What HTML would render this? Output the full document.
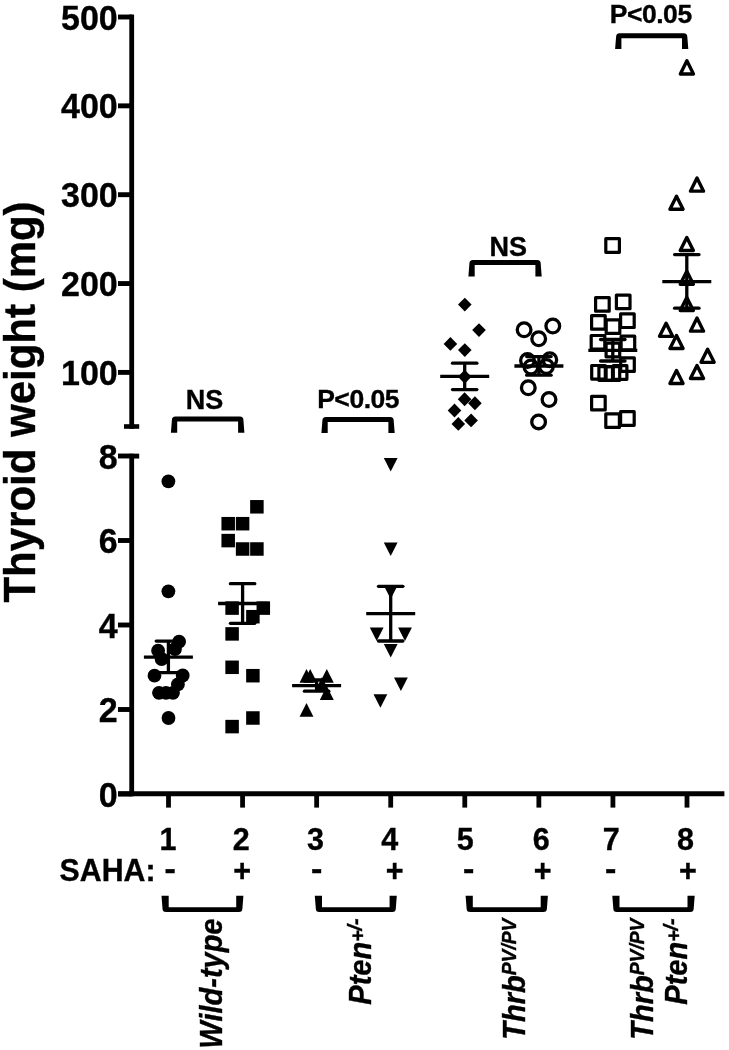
<!DOCTYPE html>
<html><head><meta charset="utf-8"><title>Thyroid weight</title>
<style>
html,body{margin:0;padding:0;background:#fff;}
svg{display:block;}
.b{font-family:"Liberation Sans",Arial,Helvetica,sans-serif;font-weight:bold;fill:#000;stroke:#000;stroke-width:0.35px;}
.bi{font-family:"Liberation Sans",Arial,Helvetica,sans-serif;font-weight:bold;font-style:italic;fill:#000;stroke:#000;stroke-width:0.35px;}
</style></head>
<body>
<svg width="729" height="1050" viewBox="0 0 729 1050">
<rect width="729" height="1050" fill="#fff"/>
<line x1="131.7" y1="14.4" x2="131.7" y2="428.7" stroke="#000" stroke-width="4.8"/>
<line x1="124" y1="426.5" x2="139.2" y2="426.5" stroke="#000" stroke-width="4.6"/>
<line x1="131.7" y1="453.7" x2="131.7" y2="796.3" stroke="#000" stroke-width="4.8"/>
<line x1="131.7" y1="456.1" x2="139.2" y2="456.1" stroke="#000" stroke-width="4.9"/>
<line x1="118" y1="372.40" x2="131.7" y2="372.40" stroke="#000" stroke-width="4.9"/>
<line x1="118" y1="283.55" x2="131.7" y2="283.55" stroke="#000" stroke-width="4.9"/>
<line x1="118" y1="194.70" x2="131.7" y2="194.70" stroke="#000" stroke-width="4.9"/>
<line x1="118" y1="105.85" x2="131.7" y2="105.85" stroke="#000" stroke-width="4.9"/>
<line x1="118" y1="17.00" x2="131.7" y2="17.00" stroke="#000" stroke-width="4.9"/>
<line x1="118" y1="794.00" x2="131.7" y2="794.00" stroke="#000" stroke-width="4.9"/>
<line x1="118" y1="709.50" x2="131.7" y2="709.50" stroke="#000" stroke-width="4.9"/>
<line x1="118" y1="625.00" x2="131.7" y2="625.00" stroke="#000" stroke-width="4.9"/>
<line x1="118" y1="540.50" x2="131.7" y2="540.50" stroke="#000" stroke-width="4.9"/>
<line x1="118" y1="456.00" x2="131.7" y2="456.00" stroke="#000" stroke-width="4.9"/>
<line x1="118.2" y1="793.8" x2="724.4" y2="793.8" stroke="#000" stroke-width="5"/>
<line x1="168.50" y1="793.8" x2="168.50" y2="807.6" stroke="#000" stroke-width="4.8"/>
<line x1="242.57" y1="793.8" x2="242.57" y2="807.6" stroke="#000" stroke-width="4.8"/>
<line x1="316.64" y1="793.8" x2="316.64" y2="807.6" stroke="#000" stroke-width="4.8"/>
<line x1="390.71" y1="793.8" x2="390.71" y2="807.6" stroke="#000" stroke-width="4.8"/>
<line x1="464.78" y1="793.8" x2="464.78" y2="807.6" stroke="#000" stroke-width="4.8"/>
<line x1="538.85" y1="793.8" x2="538.85" y2="807.6" stroke="#000" stroke-width="4.8"/>
<line x1="612.92" y1="793.8" x2="612.92" y2="807.6" stroke="#000" stroke-width="4.8"/>
<line x1="686.99" y1="793.8" x2="686.99" y2="807.6" stroke="#000" stroke-width="4.8"/>
<text transform="translate(117.7,384.90) scale(1,1.045)" class="b" font-size="34" text-anchor="end">100</text>
<text transform="translate(117.7,296.05) scale(1,1.045)" class="b" font-size="34" text-anchor="end">200</text>
<text transform="translate(117.7,207.20) scale(1,1.045)" class="b" font-size="34" text-anchor="end">300</text>
<text transform="translate(117.7,118.35) scale(1,1.045)" class="b" font-size="34" text-anchor="end">400</text>
<text transform="translate(117.7,29.50) scale(1,1.045)" class="b" font-size="34" text-anchor="end">500</text>
<text transform="translate(117.7,806.50) scale(1,1.045)" class="b" font-size="34" text-anchor="end">0</text>
<text transform="translate(117.7,722.00) scale(1,1.045)" class="b" font-size="34" text-anchor="end">2</text>
<text transform="translate(117.7,637.50) scale(1,1.045)" class="b" font-size="34" text-anchor="end">4</text>
<text transform="translate(117.7,553.00) scale(1,1.045)" class="b" font-size="34" text-anchor="end">6</text>
<text transform="translate(117.7,468.50) scale(1,1.045)" class="b" font-size="34" text-anchor="end">8</text>
<text transform="translate(35,402) rotate(-90) scale(1,1.06)" class="b" font-size="42" text-anchor="middle">Thyroid weight (mg)</text>
<text x="168.05" y="849.6" class="b" font-size="30.5" text-anchor="middle">1</text>
<text transform="translate(170.10,878.7) scale(1.12,1)" class="b" font-size="30.5" text-anchor="middle">-</text>
<text x="241.20" y="849.6" class="b" font-size="30.5" text-anchor="middle">2</text>
<text x="242.05" y="881.3" class="b" font-size="30.5" text-anchor="middle">+</text>
<text x="315.60" y="849.6" class="b" font-size="30.5" text-anchor="middle">3</text>
<text transform="translate(316.60,878.7) scale(1.12,1)" class="b" font-size="30.5" text-anchor="middle">-</text>
<text x="389.65" y="849.6" class="b" font-size="30.5" text-anchor="middle">4</text>
<text x="394.70" y="881.3" class="b" font-size="30.5" text-anchor="middle">+</text>
<text x="465.30" y="849.6" class="b" font-size="30.5" text-anchor="middle">5</text>
<text transform="translate(468.80,878.7) scale(1.12,1)" class="b" font-size="30.5" text-anchor="middle">-</text>
<text x="541.30" y="849.6" class="b" font-size="30.5" text-anchor="middle">6</text>
<text x="542.60" y="881.3" class="b" font-size="30.5" text-anchor="middle">+</text>
<text x="611.20" y="849.6" class="b" font-size="30.5" text-anchor="middle">7</text>
<text transform="translate(610.80,878.7) scale(1.12,1)" class="b" font-size="30.5" text-anchor="middle">-</text>
<text x="685.60" y="849.6" class="b" font-size="30.5" text-anchor="middle">8</text>
<text x="688.00" y="881.3" class="b" font-size="30.5" text-anchor="middle">+</text>
<text transform="translate(59.6,881.2) scale(1,1.03)" class="b" font-size="30.3">SAHA:</text>
<path d="M170.9,432.8 L171.9,420.0 Q171.9,416.5 175.4,416.5 L239.9,416.5 Q243.4,416.5 243.4,420.0 L244.4,432.8 L238.1,432.8 L238.1,421.6 L177.20000000000002,421.6 L177.20000000000002,432.8 Z" fill="#000"/>
<path d="M321.4,433.0 L322.4,420.5 Q322.4,417.0 325.9,417.0 L390.2,417.0 Q393.7,417.0 393.7,420.5 L394.7,433.0 L388.4,433.0 L388.4,422.1 L327.7,422.1 L327.7,433.0 Z" fill="#000"/>
<path d="M468.4,276.6 L469.4,263.5 Q469.4,260.0 472.9,260.0 L537.2,260.0 Q540.7,260.0 540.7,263.5 L541.7,276.6 L535.4000000000001,276.6 L535.4000000000001,265.1 L474.7,265.1 L474.7,276.6 Z" fill="#000"/>
<path d="M615.1,49.0 L616.1,36.7 Q616.1,33.2 619.6,33.2 L683.8,33.2 Q687.3,33.2 687.3,36.7 L688.3,49.0 L682.0,49.0 L682.0,38.300000000000004 L621.4,38.300000000000004 L621.4,49.0 Z" fill="#000"/>
<path d="M161.5,895.7 L162.5,908.6 Q162.5,912.1 166.0,912.1 L238.9,912.1 Q242.4,912.1 242.4,908.6 L243.4,895.7 L236.20000000000002,895.7 L236.20000000000002,907.3000000000001 L168.7,907.3000000000001 L168.7,895.7 Z" fill="#000"/>
<path d="M314.8,895.7 L315.8,908.6 Q315.8,912.1 319.3,912.1 L392.3,912.1 Q395.8,912.1 395.8,908.6 L396.8,895.7 L389.6,895.7 L389.6,907.3000000000001 L322.0,907.3000000000001 L322.0,895.7 Z" fill="#000"/>
<path d="M465.6,895.7 L466.6,908.6 Q466.6,912.1 470.1,912.1 L543.4,912.1 Q546.9,912.1 546.9,908.6 L547.9,895.7 L540.6999999999999,895.7 L540.6999999999999,907.3000000000001 L472.8,907.3000000000001 L472.8,895.7 Z" fill="#000"/>
<path d="M612.3,895.7 L613.3,908.6 Q613.3,912.1 616.8,912.1 L690.2,912.1 Q693.7,912.1 693.7,908.6 L694.7,895.7 L687.5,895.7 L687.5,907.3000000000001 L619.5,907.3000000000001 L619.5,895.7 Z" fill="#000"/>
<text x="204.55" y="408.8" class="b" font-size="27" text-anchor="middle">NS</text>
<text x="358.15" y="408" class="b" font-size="26.5" letter-spacing="-0.46" text-anchor="middle">P&lt;0.05</text>
<text x="508.2" y="256" class="b" font-size="27" text-anchor="middle">NS</text>
<text x="650.7" y="23.3" class="b" font-size="26.5" letter-spacing="-0.46" text-anchor="middle">P&lt;0.05</text>
<text transform="translate(222.4,918.5) rotate(-90) scale(1,1.08)" class="bi" font-size="29" text-anchor="end">Wild-type</text>
<text transform="translate(371,918.5) rotate(-90) scale(1,1.08)" class="bi" font-size="29" text-anchor="end">Pten<tspan font-size="19.5" dy="-5.6">+</tspan><tspan font-size="19.5" dy="-2.4">/-</tspan></text>
<text transform="translate(524.7,918.5) rotate(-90) scale(1,1.08)" class="bi" font-size="29" text-anchor="end">Thrb<tspan font-size="19.3" dy="-8">PV/PV</tspan></text>
<text transform="translate(652.7,918.5) rotate(-90) scale(1,1.08)" class="bi" font-size="29" text-anchor="end">Thrb<tspan font-size="19.3" dy="-8">PV/PV</tspan></text>
<text transform="translate(686.7,918.5) rotate(-90) scale(1,1.08)" class="bi" font-size="29" text-anchor="end">Pten<tspan font-size="19.5" dy="-5.6">+</tspan><tspan font-size="19.5" dy="-2.4">/-</tspan></text>
<g fill="#000">
<circle cx="168.4" cy="481.3" r="6.9"/>
<circle cx="168.4" cy="591.3" r="6.9"/>
<circle cx="179.1" cy="641.7" r="6.9"/>
<circle cx="175" cy="649" r="6.9"/>
<circle cx="158.1" cy="650.7" r="6.9"/>
<circle cx="161.6" cy="659" r="6.9"/>
<circle cx="154.5" cy="675.7" r="6.9"/>
<circle cx="182.7" cy="675.5" r="6.9"/>
<circle cx="177.9" cy="684.4" r="6.9"/>
<circle cx="159" cy="692.8" r="6.9"/>
<circle cx="166" cy="692.8" r="6.9"/>
<circle cx="173" cy="692.8" r="6.9"/>
<circle cx="168.5" cy="718" r="6.9"/>
<rect x="250.15" y="500.05" width="13.5" height="13.5"/>
<rect x="221.45" y="516.95" width="13.5" height="13.5"/>
<rect x="235.85" y="516.95" width="13.5" height="13.5"/>
<rect x="221.45" y="533.85" width="13.5" height="13.5"/>
<rect x="235.85" y="542.25" width="13.5" height="13.5"/>
<rect x="250.15" y="542.25" width="13.5" height="13.5"/>
<rect x="225.35" y="601.35" width="13.5" height="13.5"/>
<rect x="256.55" y="601.35" width="13.5" height="13.5"/>
<rect x="246.15" y="609.95" width="13.5" height="13.5"/>
<rect x="225.35" y="627.15" width="13.5" height="13.5"/>
<rect x="225.35" y="660.55" width="13.5" height="13.5"/>
<rect x="246.15" y="668.95" width="13.5" height="13.5"/>
<rect x="246.15" y="711.25" width="13.5" height="13.5"/>
<rect x="225.35" y="719.85" width="13.5" height="13.5"/>
<path d="M306.50,668.90 L313.45,682.70 L299.55,682.70 Z"/>
<path d="M310.20,668.90 L317.15,682.70 L303.25,682.70 Z"/>
<path d="M326.80,668.90 L333.75,682.70 L319.85,682.70 Z"/>
<path d="M322.00,677.10 L328.95,690.90 L315.05,690.90 Z"/>
<path d="M326.80,686.10 L333.75,699.90 L319.85,699.90 Z"/>
<path d="M306.50,702.90 L313.45,716.70 L299.55,716.70 Z"/>
<path d="M383.80,458.05 L397.60,458.05 L390.70,471.45 Z"/>
<path d="M383.80,542.55 L397.60,542.55 L390.70,555.95 Z"/>
<path d="M383.80,585.55 L397.60,585.55 L390.70,598.95 Z"/>
<path d="M369.80,627.55 L383.60,627.55 L376.70,640.95 Z"/>
<path d="M398.10,627.55 L411.90,627.55 L405.00,640.95 Z"/>
<path d="M383.80,644.05 L397.60,644.05 L390.70,657.45 Z"/>
<path d="M394.00,677.55 L407.80,677.55 L400.90,690.95 Z"/>
<path d="M373.50,694.35 L387.30,694.35 L380.40,707.75 Z"/>
<path d="M464.80,297.65 L471.60,304.60 L464.80,311.55 L458.00,304.60 Z"/>
<path d="M479.00,323.15 L485.80,330.10 L479.00,337.05 L472.20,330.10 Z"/>
<path d="M450.40,336.95 L457.20,343.90 L450.40,350.85 L443.60,343.90 Z"/>
<path d="M464.80,343.15 L471.60,350.10 L464.80,357.05 L458.00,350.10 Z"/>
<path d="M464.70,369.85 L471.50,376.80 L464.70,383.75 L457.90,376.80 Z"/>
<path d="M464.60,392.25 L471.40,399.20 L464.60,406.15 L457.80,399.20 Z"/>
<path d="M474.90,396.35 L481.70,403.30 L474.90,410.25 L468.10,403.30 Z"/>
<path d="M454.50,403.55 L461.30,410.50 L454.50,417.45 L447.70,410.50 Z"/>
<path d="M471.10,413.45 L477.90,420.40 L471.10,427.35 L464.30,420.40 Z"/>
<path d="M458.30,416.95 L465.10,423.90 L458.30,430.85 L451.50,423.90 Z"/>
</g>
<g fill="none" stroke="#000" stroke-width="3.3" stroke-linejoin="round">
<circle cx="524.1" cy="329.7" r="6.85"/>
<circle cx="538.7" cy="338.7" r="6.85"/>
<circle cx="552.8" cy="326" r="6.85"/>
<circle cx="527.5" cy="360.4" r="6.85"/>
<circle cx="549.8" cy="359.7" r="6.85"/>
<circle cx="531" cy="367" r="6.85"/>
<circle cx="546.4" cy="366.5" r="6.85"/>
<circle cx="528.3" cy="387.8" r="6.85"/>
<circle cx="549" cy="399.5" r="6.85"/>
<circle cx="538.6" cy="421.9" r="6.85"/>
</g>
<g fill="none" stroke="#000" stroke-width="3.2" stroke-linejoin="round">
<rect x="605.80" y="238.70" width="13.6" height="13.6"/>
<rect x="595.60" y="297.60" width="13.6" height="13.6"/>
<rect x="616.40" y="295.10" width="13.6" height="13.6"/>
<rect x="591.60" y="315.60" width="13.6" height="13.6"/>
<rect x="620.60" y="313.90" width="13.6" height="13.6"/>
<rect x="606.20" y="319.80" width="13.6" height="13.6"/>
<rect x="591.20" y="335.50" width="13.6" height="13.6"/>
<rect x="621.10" y="336.20" width="13.6" height="13.6"/>
<rect x="606.10" y="343.20" width="13.6" height="13.6"/>
<rect x="620.70" y="357.80" width="13.6" height="13.6"/>
<rect x="591.70" y="365.50" width="13.6" height="13.6"/>
<rect x="598.90" y="366.70" width="13.6" height="13.6"/>
<rect x="606.10" y="366.70" width="13.6" height="13.6"/>
<rect x="613.30" y="365.70" width="13.6" height="13.6"/>
<rect x="591.60" y="396.30" width="13.6" height="13.6"/>
<rect x="605.80" y="413.80" width="13.6" height="13.6"/>
<rect x="620.60" y="411.70" width="13.6" height="13.6"/>
</g>
<g fill="none" stroke="#000" stroke-width="3.4" stroke-linejoin="round">
<path d="M686.90,60.85 L693.45,73.95 L680.35,73.95 Z"/>
<path d="M697.00,178.05 L703.55,191.15 L690.45,191.15 Z"/>
<path d="M676.50,196.15 L683.05,209.25 L669.95,209.25 Z"/>
<path d="M686.80,237.45 L693.35,250.55 L680.25,250.55 Z"/>
<path d="M686.80,271.15 L693.35,284.25 L680.25,284.25 Z"/>
<path d="M686.80,297.45 L693.35,310.55 L680.25,310.55 Z"/>
<path d="M697.00,318.05 L703.55,331.15 L690.45,331.15 Z"/>
<path d="M666.10,323.25 L672.65,336.35 L659.55,336.35 Z"/>
<path d="M676.50,335.45 L683.05,348.55 L669.95,348.55 Z"/>
<path d="M707.60,349.25 L714.15,362.35 L701.05,362.35 Z"/>
<path d="M697.00,365.45 L703.55,378.55 L690.45,378.55 Z"/>
<path d="M676.50,370.45 L683.05,383.55 L669.95,383.55 Z"/>
</g>
<line x1="168.4" y1="641.1" x2="168.4" y2="672.6" stroke="#000" stroke-width="3.3"/><line x1="143.9" y1="657.2" x2="192.9" y2="657.2" stroke="#000" stroke-width="3.3"/><line x1="156.20000000000002" y1="641.1" x2="180.6" y2="641.1" stroke="#000" stroke-width="3.3" stroke-linecap="round"/><line x1="156.20000000000002" y1="672.6" x2="180.6" y2="672.6" stroke="#000" stroke-width="3.3" stroke-linecap="round"/>
<line x1="242.6" y1="583.7" x2="242.6" y2="623.3" stroke="#000" stroke-width="3.3"/><line x1="218.1" y1="603.5" x2="267.1" y2="603.5" stroke="#000" stroke-width="3.3"/><line x1="230.4" y1="583.7" x2="254.79999999999998" y2="583.7" stroke="#000" stroke-width="3.3" stroke-linecap="round"/><line x1="230.4" y1="623.3" x2="254.79999999999998" y2="623.3" stroke="#000" stroke-width="3.3" stroke-linecap="round"/>
<line x1="316.6" y1="680.0" x2="316.6" y2="691.2" stroke="#000" stroke-width="3.3"/><line x1="292.1" y1="685.6" x2="341.1" y2="685.6" stroke="#000" stroke-width="3.3"/><line x1="304.40000000000003" y1="680.0" x2="328.8" y2="680.0" stroke="#000" stroke-width="3.3" stroke-linecap="round"/><line x1="304.40000000000003" y1="691.2" x2="328.8" y2="691.2" stroke="#000" stroke-width="3.3" stroke-linecap="round"/>
<line x1="390.7" y1="586.3" x2="390.7" y2="641.0" stroke="#000" stroke-width="3.3"/><line x1="366.2" y1="613.7" x2="415.2" y2="613.7" stroke="#000" stroke-width="3.3"/><line x1="378.5" y1="586.3" x2="402.9" y2="586.3" stroke="#000" stroke-width="3.3" stroke-linecap="round"/><line x1="378.5" y1="641.0" x2="402.9" y2="641.0" stroke="#000" stroke-width="3.3" stroke-linecap="round"/>
<line x1="464.7" y1="363.2" x2="464.7" y2="389.6" stroke="#000" stroke-width="3.3"/><line x1="440.2" y1="376.4" x2="489.2" y2="376.4" stroke="#000" stroke-width="3.3"/><line x1="452.5" y1="363.2" x2="476.9" y2="363.2" stroke="#000" stroke-width="3.3" stroke-linecap="round"/><line x1="452.5" y1="389.6" x2="476.9" y2="389.6" stroke="#000" stroke-width="3.3" stroke-linecap="round"/>
<line x1="538.9" y1="356.6" x2="538.9" y2="375.2" stroke="#000" stroke-width="3.3"/><line x1="514.4" y1="366.0" x2="563.4" y2="366.0" stroke="#000" stroke-width="3.3"/><line x1="526.6999999999999" y1="356.6" x2="551.1" y2="356.6" stroke="#000" stroke-width="3.3" stroke-linecap="round"/><line x1="526.6999999999999" y1="375.2" x2="551.1" y2="375.2" stroke="#000" stroke-width="3.3" stroke-linecap="round"/>
<line x1="612.8" y1="339.5" x2="612.8" y2="361.0" stroke="#000" stroke-width="3.3"/><line x1="588.3" y1="350.4" x2="637.3" y2="350.4" stroke="#000" stroke-width="3.3"/><line x1="600.5999999999999" y1="339.5" x2="625.0" y2="339.5" stroke="#000" stroke-width="3.3" stroke-linecap="round"/><line x1="600.5999999999999" y1="361.0" x2="625.0" y2="361.0" stroke="#000" stroke-width="3.3" stroke-linecap="round"/>
<line x1="686.8" y1="254.6" x2="686.8" y2="308.2" stroke="#000" stroke-width="3.3"/><line x1="662.3" y1="281.6" x2="711.3" y2="281.6" stroke="#000" stroke-width="3.3"/><line x1="674.5999999999999" y1="254.6" x2="699.0" y2="254.6" stroke="#000" stroke-width="3.3" stroke-linecap="round"/><line x1="674.5999999999999" y1="308.2" x2="699.0" y2="308.2" stroke="#000" stroke-width="3.3" stroke-linecap="round"/>
</svg>
</body></html>
